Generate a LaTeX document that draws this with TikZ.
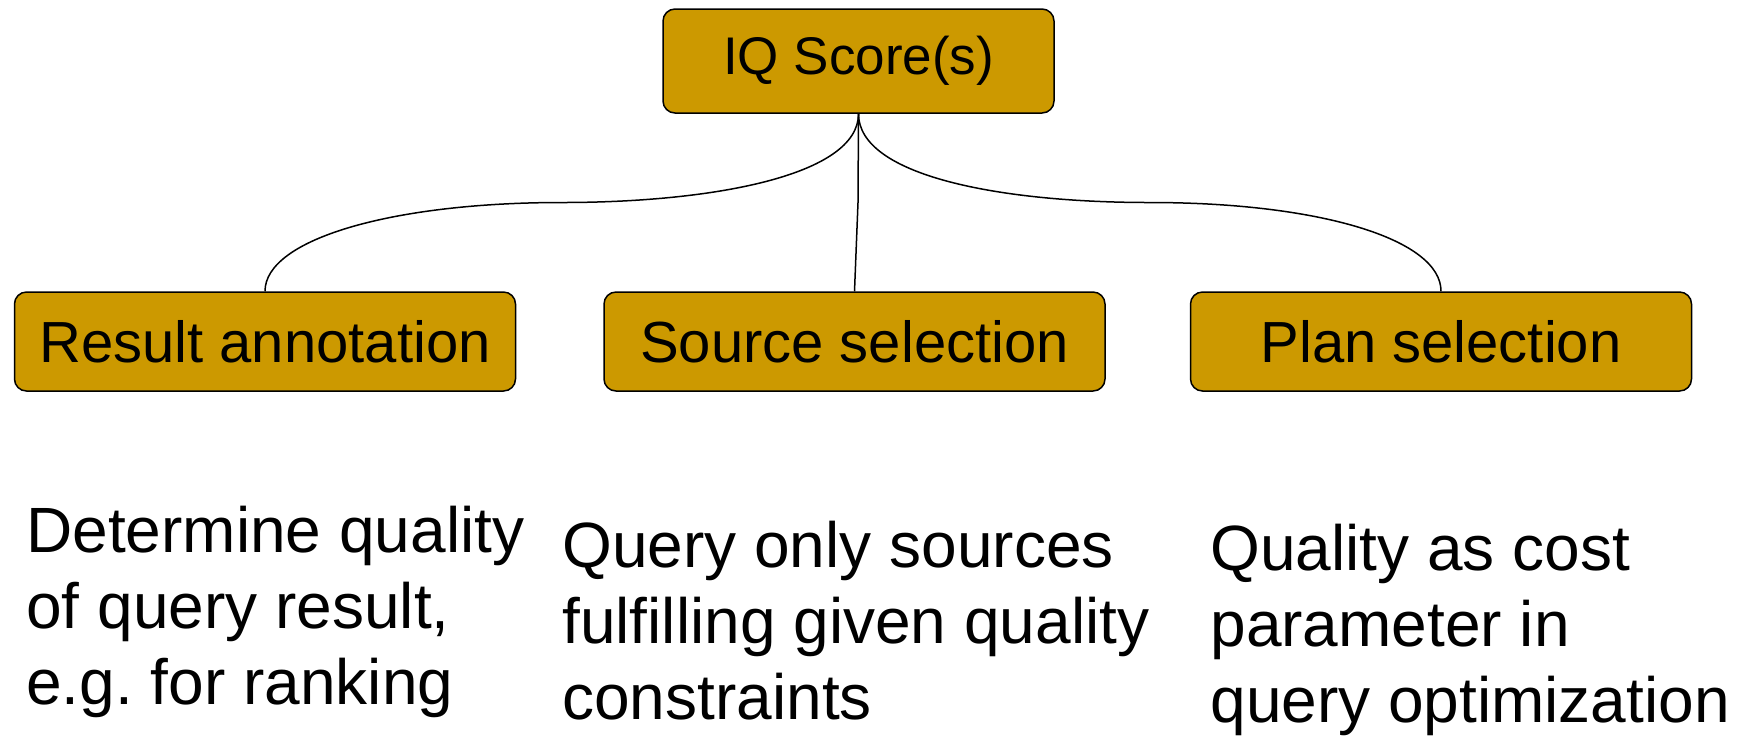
\documentclass[tikz,border=0pt]{standalone}
\usepackage{fontspec}
\setmainfont{Liberation Sans}
\usepackage{xcolor}
\usetikzlibrary{positioning,calc}
\definecolor{iqgold}{HTML}{CC9900}
\frenchspacing

\begin{document}
\begin{tikzpicture}[x=0.5pt,y=-0.5pt,
	main node/.style={rectangle,rounded corners=6pt,draw,line width=0.75pt,fill=iqgold,inner sep=0pt,
		minimum width=250.5pt,minimum height=49.5pt,font=\fontsize{29}{34}\selectfont},
	top node/.style={main node,minimum width=195.5pt,minimum height=52pt,font=\fontsize{26.5}{31}\selectfont},
	note/.style={anchor=north west,inner sep=0pt,align=left,font=\fontsize{32}{38}\selectfont},
	link/.style={line width=0.75pt}]

    \useasboundingbox (0,0) rectangle (1738,736);

    \node[top node] (IQ) at (858.5,61) {IQ Score(s)};
    \node[main node] (S) at (854.5,341.5) {Source selection};
    \node[main node] (R) [left = 43.5pt of S] {Result annotation};
    \node[main node] (P) [right = 42pt of S] {Plan selection};

    % what each use is for
    \node[note] (dR) at (26,506) {Determine quality\\of query result,\\e.g. for ranking};
    \node[note] (dS) at (562,521) {Query only sources\\fulfilling given quality\\constraints};
    \node[note] (dP) at (1210,524) {Quality as cost\\parameter in\\query optimization};

    \coordinate (mR) at ($(IQ.south)!0.5!(R.north)$);
    \coordinate (mS) at ($(IQ.south)!0.5!(S.north)+(1.5,0)$);
    \coordinate (mP) at ($(IQ.south)!0.5!(P.north)$);

    \draw[link] (IQ.south) .. controls +(0,62) and ($(mR)+(150,0)$) .. (mR)
	.. controls ($(mR)+(-170,0)$) and ($(R.north)+(0,-52)$) .. (R.north);
    \draw[link] (IQ.south) -- (mS) -- (S.north);
    \draw[link] (IQ.south) .. controls +(0,62) and ($(mP)+(-150,0)$) .. (mP)
	.. controls ($(mP)+(170,0)$) and ($(P.north)+(0,-52)$) .. (P.north);

\end{tikzpicture}
\end{document}
